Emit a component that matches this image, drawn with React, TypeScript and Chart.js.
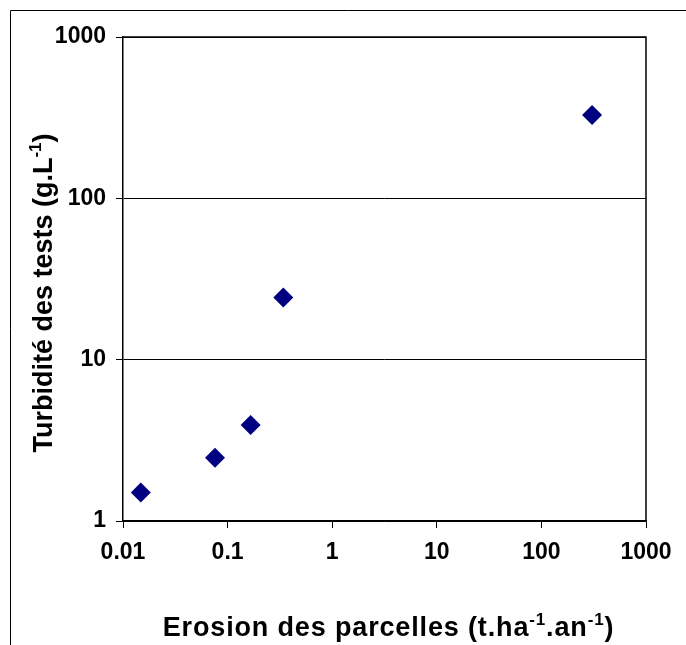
import { useEffect, useRef } from 'react';
import { Chart, registerables } from 'chart.js';

Chart.register(...registerables);

const erosion = [0.0148, 0.0758, 0.166, 0.341, 305];
const turbidity = [1.5, 2.47, 3.94, 24.3, 329];
const xTickValues = [0.01, 0.1, 1, 10, 100, 1000];
const yTickValues = [1, 10, 100, 1000];
const xTitleParts: [string, boolean][] = [
  ['Erosion des parcelles (t.ha', false],
  ['-1', true],
  ['.an', false],
  ['-1', true],
  [')', false],
];
const yTitleParts: [string, boolean][] = [
  ['Turbidité des tests (g.L', false],
  ['-1', true],
  [')', false],
];

const FONT = '"Liberation Sans", Arial, sans-serif';
const MAIN_FONT = `bold 27px ${FONT}`;
const SUP_FONT = `bold 17px ${FONT}`;

function drawRich(ctx: CanvasRenderingContext2D, parts: [string, boolean][], cx: number, baseY: number, spacing: number) {
  (ctx as any).letterSpacing = `${spacing}px`;
  let total = 0;
  const widths = parts.map(([t, sup]) => {
    ctx.font = sup ? SUP_FONT : MAIN_FONT;
    const w = ctx.measureText(t).width;
    total += w;
    return w;
  });
  let x = cx - total / 2;
  ctx.textAlign = 'left';
  ctx.textBaseline = 'alphabetic';
  parts.forEach(([t, sup], i) => {
    ctx.font = sup ? SUP_FONT : MAIN_FONT;
    ctx.fillText(t, x, sup ? baseY - 11 : baseY);
    x += widths[i];
  });
  (ctx as any).letterSpacing = '0px';
}

const decorPlugin = {
  id: 'decor',
  beforeDraw(chart: any) {
    const ctx = chart.ctx as CanvasRenderingContext2D;
    ctx.save();
    ctx.fillStyle = '#ffffff';
    ctx.fillRect(0, 0, chart.width, chart.height);
    ctx.strokeStyle = '#000000';
    ctx.lineWidth = 1;
    ctx.beginPath();
    ctx.moveTo(10.5, chart.height + 5);
    ctx.lineTo(10.5, 10.5);
    ctx.lineTo(chart.width + 5, 10.5);
    ctx.stroke();
    ctx.restore();
  },
  afterDatasetsDraw(chart: any) {
    const ctx = chart.ctx as CanvasRenderingContext2D;
    const a = chart.chartArea;
    ctx.save();
    ctx.strokeStyle = '#000000';
    ctx.lineWidth = 1.5;
    ctx.beginPath();
    ctx.moveTo(a.left, a.top);
    ctx.lineTo(a.right, a.top);
    ctx.lineTo(a.right, a.bottom);
    ctx.stroke();
    ctx.fillStyle = '#000000';
    drawRich(ctx, xTitleParts, (a.left + a.right) / 2 + 4, 636, 0.85);
    ctx.translate(51.7, (a.top + a.bottom) / 2 + 14);
    ctx.rotate(-Math.PI / 2);
    drawRich(ctx, yTitleParts, 0, 0, 0);
    ctx.restore();
  },
};

export default function App() {
  const ref = useRef<HTMLCanvasElement>(null);
  useEffect(() => {
    if (!ref.current) return;
    const chart = new Chart(ref.current, {
      type: 'scatter',
      data: {
        datasets: [
          {
            data: erosion.map((x, i) => ({ x, y: turbidity[i] })),
            backgroundColor: '#000080',
            borderColor: '#000080',
            pointStyle: 'rectRot',
            pointRadius: 10,
            pointHoverRadius: 10,
            borderWidth: 0,
          },
        ],
      },
      options: {
        animation: false,
        responsive: false,
        devicePixelRatio: 1,
        events: [],
        layout: { padding: { left: 0, top: 37, right: 40, bottom: 0 } },
        plugins: { legend: { display: false }, tooltip: { enabled: false } },
        scales: {
          x: {
            type: 'logarithmic',
            min: 0.01,
            max: 1000,
            afterBuildTicks: (s: any) => {
              s.ticks = xTickValues.map((v) => ({ value: v }));
            },
            afterFit: (s: any) => {
              s.height = 124;
            },
            grid: {
              drawOnChartArea: false,
              drawTicks: true,
              tickLength: 7,
              color: '#000000',
              lineWidth: 1,
            },
            border: { display: true, color: '#000000', width: 1.5 },
            ticks: {
              autoSkip: false,
              maxRotation: 0,
              padding: 11,
              color: '#000000',
              font: { family: FONT, size: 23, weight: 'bold' },
              callback: (v: any) => String(v),
            },
          },
          y: {
            type: 'logarithmic',
            min: 1,
            max: 1000,
            afterBuildTicks: (s: any) => {
              s.ticks = yTickValues.map((v) => ({ value: v }));
            },
            afterFit: (s: any) => {
              s.width = 123;
            },
            grid: {
              drawOnChartArea: true,
              drawTicks: true,
              tickLength: 7,
              color: '#000000',
              lineWidth: 1,
            },
            border: { display: true, color: '#000000', width: 1.5 },
            ticks: {
              autoSkip: false,
              padding: 10,
              color: '#000000',
              font: { family: FONT, size: 23, weight: 'bold' },
              callback: (v: any) => String(v),
            },
          },
        },
      },
      plugins: [decorPlugin],
    });
    return () => chart.destroy();
  }, []);
  return (
    <div style={{ position: 'fixed', left: 0, top: 0, width: 686, height: 645 }}>
      <canvas ref={ref} width={686} height={645} style={{ width: 686, height: 645, display: 'block' }} />
    </div>
  );
}
